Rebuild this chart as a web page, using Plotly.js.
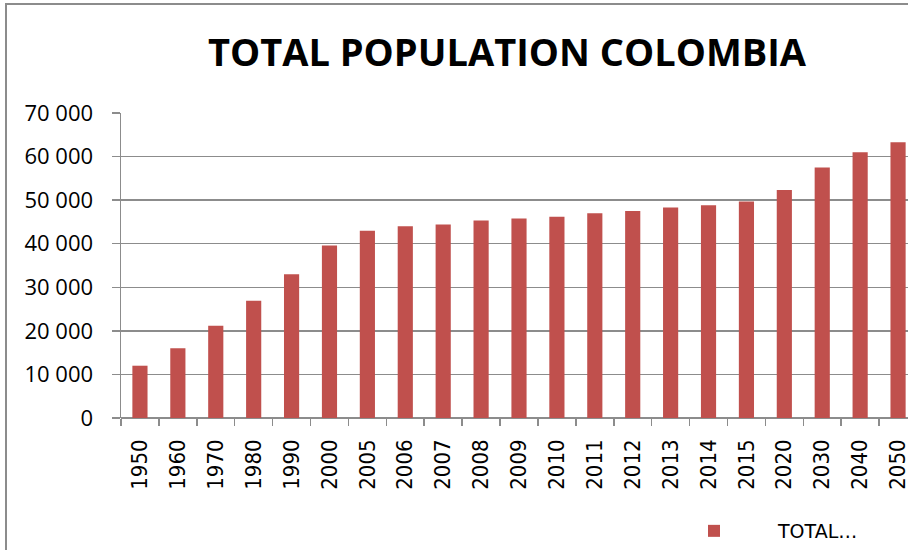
<!DOCTYPE html>
<html>
<head>
<meta charset="utf-8">
<script src="https://cdn.plot.ly/plotly-3.0.1.min.js"></script>
<style>
  html, body { margin: 0; padding: 0; background: #ffffff; overflow: hidden; width: 908px; height: 550px; }
  #chart { position: absolute; left: 0; top: 0; width: 917px; height: 550px; }
  #frame { position: absolute; left: 5px; top: 3px; width: 1000px; height: 600px;
           border-left: 2px solid #8c8c8c; border-top: 2px solid #8c8c8c; pointer-events: none; }
</style>
</head>
<body>
<div id="chart"></div>
<div id="frame"></div>
<script>
// Colombia total population (thousands) by year
const years = ['1950', '1960', '1970', '1980', '1990', '2000', '2005', '2006', '2007',
               '2008', '2009', '2010', '2011', '2012', '2013', '2014', '2015',
               '2020', '2030', '2040', '2050'];
const population = [12000, 16000, 21200, 26900, 33000, 39600, 43000, 44000, 44400,
                    45300, 45800, 46200, 47000, 47500, 48300, 48800, 49700,
                    52300, 57500, 61000, 63300];
const seriesName = 'TOTAL…';
const chartTitle = 'TOTAL POPULATION COLOMBIA';
const yTicks = [0, 10000, 20000, 30000, 40000, 50000, 60000, 70000];

const barColor = '#C0504D';
const lineColor = '#8c8c8c';

const trace = {
  type: 'bar',
  x: years,
  y: population,
  name: seriesName,
  marker: { color: barColor },
  showlegend: true,
  hoverinfo: 'x+y'
};

const layout = {
  width: 917,
  height: 550,
  margin: { l: 121, r: 0, t: 113, b: 132 },
  paper_bgcolor: '#ffffff',
  plot_bgcolor: '#ffffff',
  separators: '. ',
  bargap: 0.6,
  title: {
    text: chartTitle,
    font: { family: 'Open Sans, sans-serif', size: 38, color: '#000000', weight: 'bold' },
    x: 507 / 917,
    xanchor: 'center',
    xref: 'container',
    y: 1 - 53 / 550,
    yanchor: 'middle',
    yref: 'container'
  },
  xaxis: {
    type: 'category',
    tickangle: -90,
    tickson: 'boundaries',
    ticks: 'outside',
    ticklen: 7,
    tickwidth: 1.5,
    tickcolor: lineColor,
    showline: false,
    showgrid: false,
    ticklabelstandoff: 16,
    tickfont: { family: 'DejaVu Sans Condensed, DejaVu Sans, sans-serif', size: 22, color: '#000000' }
  },
  yaxis: {
    range: [0, 70000],
    tickvals: yTicks,
    tickformat: ',d',
    exponentformat: 'none',
    ticks: 'outside',
    ticklen: 8,
    tickwidth: 1.5,
    tickcolor: lineColor,
    showline: true,
    linecolor: lineColor,
    linewidth: 1.5,
    showgrid: true,
    gridcolor: lineColor,
    gridwidth: 1.5,
    zeroline: true,
    zerolinecolor: lineColor,
    zerolinewidth: 1.5,
    ticklabelstandoff: 14,
    tickfont: { family: 'Open Sans, sans-serif', size: 22, color: '#000000' }
  },
  legend: {
    orientation: 'h',
    x: 650 / 917,
    xanchor: 'left',
    xref: 'container',
    y: 1 - 531 / 550,
    yanchor: 'middle',
    yref: 'container',
    itemwidth: 118,
    bgcolor: 'rgba(0,0,0,0)',
    font: { family: 'DejaVu Sans, sans-serif', size: 19, color: '#000000' }
  },
  showlegend: true
};

Plotly.newPlot('chart', [trace], layout, { displayModeBar: false, staticPlot: true });
</script>
</body>
</html>
